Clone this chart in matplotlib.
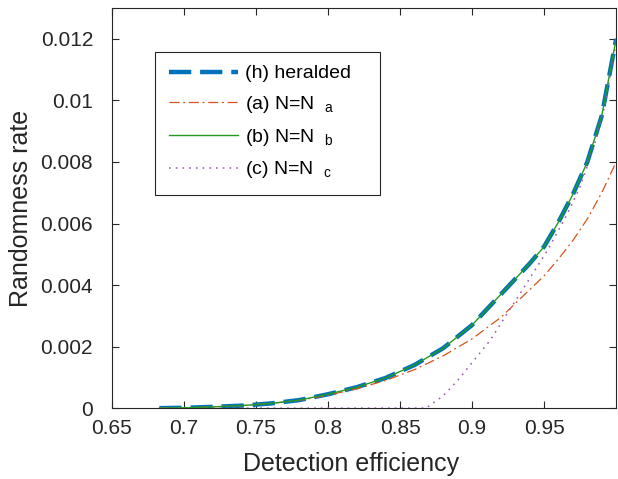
import matplotlib
matplotlib.use("Agg")
import matplotlib.pyplot as plt
from matplotlib.patches import Rectangle

plt.rcParams["font.family"] = ["Liberation Sans", "DejaVu Sans"]
plt.rcParams["mathtext.fontset"] = "custom"
plt.rcParams["mathtext.rm"] = "Liberation Sans"

# efficiency grid
eta = [0.683, 0.70, 0.72, 0.74, 0.76, 0.78, 0.80, 0.82, 0.84, 0.86, 0.88,
       0.90, 0.92, 0.94, 0.95, 0.96, 0.97, 0.98, 0.99, 1.0]

heralded = [0.0, 0.00001, 0.00004, 0.00008, 0.00015, 0.00026, 0.00045, 0.00068, 0.00098,
            0.00140, 0.00195, 0.00270, 0.00370, 0.00470, 0.00525, 0.00605, 0.00695,
            0.00800, 0.00950, 0.01200]
rate_a = [0.0, 0.00001, 0.00004, 0.00008, 0.00015, 0.00025, 0.00042, 0.00063, 0.00090,
          0.00125, 0.00170, 0.00225, 0.00295, 0.00385, 0.00430, 0.00485, 0.00545,
          0.00615, 0.00700, 0.00800]
rate_b = [0.0, 0.00001, 0.00004, 0.00008, 0.00015, 0.00026, 0.00045, 0.00068, 0.00098,
          0.00140, 0.00195, 0.00270, 0.00370, 0.00470, 0.00525, 0.00605, 0.00695,
          0.00800, 0.00950, 0.01200]
rate_c_eta = [0.683, 0.70, 0.75, 0.80, 0.85, 0.868, 0.88, 0.89, 0.9125, 0.933,
              0.952, 0.966, 0.975, 0.984, 0.992, 1.0]
rate_c = [0.0, 0.0, 0.0, 0.0, 0.0, 0.0, 0.0004, 0.0009, 0.0022, 0.0037,
          0.0051, 0.0063, 0.0072, 0.0084, 0.0098, 0.0119]

xticks = [0.65, 0.7, 0.75, 0.8, 0.85, 0.9, 0.95]
yticks = [0, 0.002, 0.004, 0.006, 0.008, 0.01, 0.012]

fig = plt.figure(figsize=(6.18, 4.79), dpi=100)
ax = fig.add_axes([0.181, 0.148, 0.816, 0.835])

ax.plot(eta, heralded, color="#0072BD", lw=3.2, dashes=(5, 2),
        label="(h) heralded", zorder=2)
ax.plot(eta, rate_a, color="#D95319", lw=0.9, dashes=(8, 3, 1.5, 3),
        label=r"(a) N=N  $_\mathregular{a}$", zorder=3)
ax.plot(eta, rate_b, color="#239a23", lw=1.0, label=r"(b) N=N  $_\mathregular{b}$", zorder=4)
ax.plot(rate_c_eta, rate_c, color="#9b59b6", lw=1.1, dashes=(1.1, 3.3),
        label=r"(c) N=N  $_\mathregular{c}$", zorder=3)

ax.set_xlim(0.65, 1.0)
ax.set_ylim(0, 0.013)
ax.set_xticks(xticks)
ax.set_xticklabels(["0.65", "0.7", "0.75", "0.8", "0.85", "0.9", "0.95"])
ax.set_yticks(yticks)
ax.set_yticklabels(["0", "0.002", "0.004", "0.006", "0.008", "0.01", "0.012"])
ax.tick_params(direction="in", length=5, width=0.8, top=True, right=True,
               labelsize=15, colors="#262626")
ax.tick_params(axis="x", pad=8)
ax.tick_params(axis="y", pad=13.5)
for s in ax.spines.values():
    s.set_color("#262626")
    s.set_linewidth(0.8)

ax.set_xlabel("Detection efficiency", fontsize=18, color="#262626", labelpad=6)
ax.xaxis.set_label_coords(0.475, -0.11)
ax.set_ylabel("Randomness rate", fontsize=18, color="#262626")
ax.yaxis.set_label_coords(-0.157, 0.5)

# legend without its own frame; a plain box is drawn around it
leg = ax.legend(loc="upper left", bbox_to_anchor=(0.093, 0.885), fontsize=14,
                handlelength=3.5, handletextpad=0.4, frameon=False,
                borderaxespad=0, labelspacing=0.6, borderpad=0.55)
box = Rectangle((0.0853, 0.5325), 0.446, 0.3575, transform=ax.transAxes,
                fill=False, edgecolor="#262626", linewidth=0.8, zorder=5)
ax.add_patch(box)

fig.savefig("out.png", dpi=100)
